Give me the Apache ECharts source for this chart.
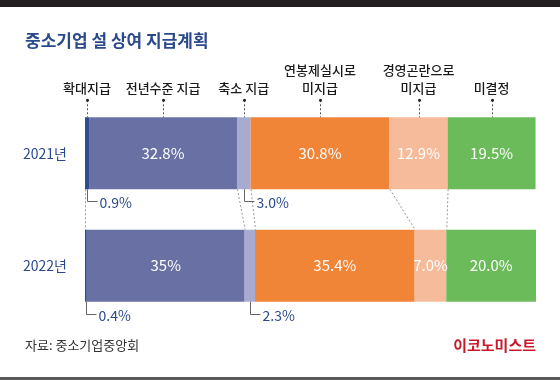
<!DOCTYPE html>
<html>
<head>
<meta charset="utf-8">
<script src="https://cdn.jsdelivr.net/npm/echarts@6/dist/echarts.min.js"></script>
<style>
html,body{margin:0;padding:0;background:#fff;}
#c{width:560px;height:380px;}
</style>
</head>
<body>
<div id="c"></div>
<script>
// ---- data ----
const categories = ['2021년', '2022년'];
const segmentNames = ['확대지급', '전년수준 지급', '축소 지급', '연봉제실시로\n미지급', '경영곤란으로\n미지급', '미결정'];
const values2021 = [0.9, 32.8, 3.0, 30.8, 12.9, 19.5];
const values2022 = [0.4, 35, 2.3, 35.4, 7.0, 20.0];
const labels2021 = ['0.9%', '32.8%', '3.0%', '30.8%', '12.9%', '19.5%'];
const labels2022 = ['0.4%', '35%', '2.3%', '35.4%', '7.0%', '20.0%'];
const colors = ['#2c4b90', '#6870a4', '#a8aad0', '#f08538', '#f6bb9b', '#6cbb5b'];

const FONT = '"Noto Sans CJK KR", "Noto Sans", sans-serif';
const NAVY = '#2b4a8c';
const BAR_W = 72;

function cumulative(vals) {
  const out = [0];
  vals.forEach(v => out.push(out[out.length - 1] + v));
  return out;
}
const cum2021 = cumulative(values2021);
const cum2022 = cumulative(values2022);
const allValues = [values2021, values2022];
const allLabels = [labels2021, labels2022];
const INSIDE_MIN = 5;

// bar series
const barSeries = segmentNames.map((name, si) => ({
  name: name,
  type: 'bar',
  stack: 'total',
  barWidth: BAR_W,
  itemStyle: { color: colors[si] },
  label: {
    show: true,
    position: 'inside',
    color: '#fff',
    fontSize: 15,
    fontFamily: FONT,
    formatter: p => allLabels[p.dataIndex][si]
  },
  data: allValues.map(vals => ({
    value: vals[si],
    label: { show: vals[si] >= INSIDE_MIN }
  }))
}));

// top annotations (above 2021 bar, at middle of each segment)
const topNoteData = segmentNames.map((n, si) => [cum2021[si] + values2021[si] / 2, 0, si]);
const topNotes = {
  type: 'custom',
  silent: true,
  z: 5,
  encode: { x: 0, y: 1 },
  renderItem: (params, api) => {
    const pt = api.coord([api.value(0), api.value(1)]);
    const si = api.value(2);
    const top = pt[1] - BAR_W / 2;
    const x = Math.round(pt[0]) + 0.5;
    return {
      type: 'group',
      children: [
        { type: 'line', shape: { x1: x, y1: top - 17, x2: x, y2: top },
          style: { stroke: '#555', lineWidth: 1, lineDash: [2, 2] } },
        { type: 'circle', shape: { cx: x, cy: top - 17, r: 1.5 }, style: { fill: '#222' } },
        { type: 'text', style: { text: segmentNames[si], x: pt[0], y: top - 20,
          align: 'center', verticalAlign: 'bottom', fill: '#1a1a1a',
          font: '500 13px ' + FONT, lineHeight: 18 } }
      ]
    };
  },
  data: topNoteData
};

// bracket labels for small segments (below bars)
const bracketData = [];
allValues.forEach((vals, ci) => {
  const cum = ci === 0 ? cum2021 : cum2022;
  vals.forEach((v, si) => {
    if (v < INSIDE_MIN) bracketData.push([cum[si] + v / 2, ci, si]);
  });
});
const bracketNotes = {
  type: 'custom',
  silent: true,
  z: 5,
  encode: { x: 0, y: 1 },
  renderItem: (params, api) => {
    const pt = api.coord([api.value(0), api.value(1)]);
    const ci = api.value(1);
    const si = api.value(2);
    const bottom = pt[1] + BAR_W / 2;
    const x = Math.round(pt[0]) + 0.5;
    const y2 = Math.round(bottom + 12) + 0.5;
    return {
      type: 'group',
      children: [
        { type: 'polyline', shape: { points: [[x, bottom], [x, y2], [x + 10, y2]] },
          style: { stroke: '#666', lineWidth: 1, fill: null } },
        { type: 'text', style: { text: allLabels[ci][si], x: x + 12, y: y2 + 1,
          align: 'left', verticalAlign: 'middle', fill: NAVY,
          font: '14px ' + FONT } }
      ]
    };
  },
  data: bracketData
};

// connector dotted lines between the two bars
const connectorIdx = [0, 2, 3, 4, 5];
const connectorData = connectorIdx.map(k => [cum2021[k], 0, cum2022[k]]);
const connectors = {
  type: 'custom',
  silent: true,
  z: 1,
  encode: { x: 0, y: 1 },
  renderItem: (params, api) => {
    const a = api.coord([api.value(0), 0]);
    const b = api.coord([api.value(2), 1]);
    return {
      type: 'line',
      shape: { x1: a[0] + 0.5, y1: a[1] + BAR_W / 2, x2: b[0] + 0.5, y2: b[1] - BAR_W / 2 },
      style: { stroke: '#999', lineWidth: 1, lineDash: [2, 2] }
    };
  },
  data: connectorData
};

const chart = echarts.init(document.getElementById('c'), null, { renderer: 'canvas' });
chart.setOption({
  animation: false,
  backgroundColor: '#fff',
  grid: { left: 85, right: 24, top: 97, bottom: 58 },
  xAxis: { type: 'value', min: 0, max: 100, show: false },
  yAxis: {
    type: 'category',
    inverse: true,
    data: categories,
    axisLine: { show: false },
    axisTick: { show: false },
    axisLabel: { color: NAVY, fontSize: 14, fontFamily: FONT, margin: 18 }
  },
  graphic: [
    { type: 'rect', left: 0, top: 0, shape: { width: 560, height: 7 }, style: { fill: '#231f20' } },
    { type: 'rect', left: 0, top: 377, shape: { width: 560, height: 3 }, style: { fill: '#5a5a5a' } },
    { type: 'text', left: 25, top: 32, style: { text: '중소기업 설 상여 지급계획', fill: NAVY,
      font: 'bold 17px ' + FONT } },
    { type: 'text', left: 25, top: 339, style: { text: '자료: 중소기업중앙회', fill: '#333',
      font: '13px ' + FONT } },
    { type: 'text', right: 24, top: 338, style: { text: '이코노미스트', fill: '#c8182b',
      font: 'bold 15px ' + FONT } }
  ],
  series: [...barSeries, connectors, topNotes, bracketNotes]
});
</script>
</body>
</html>
